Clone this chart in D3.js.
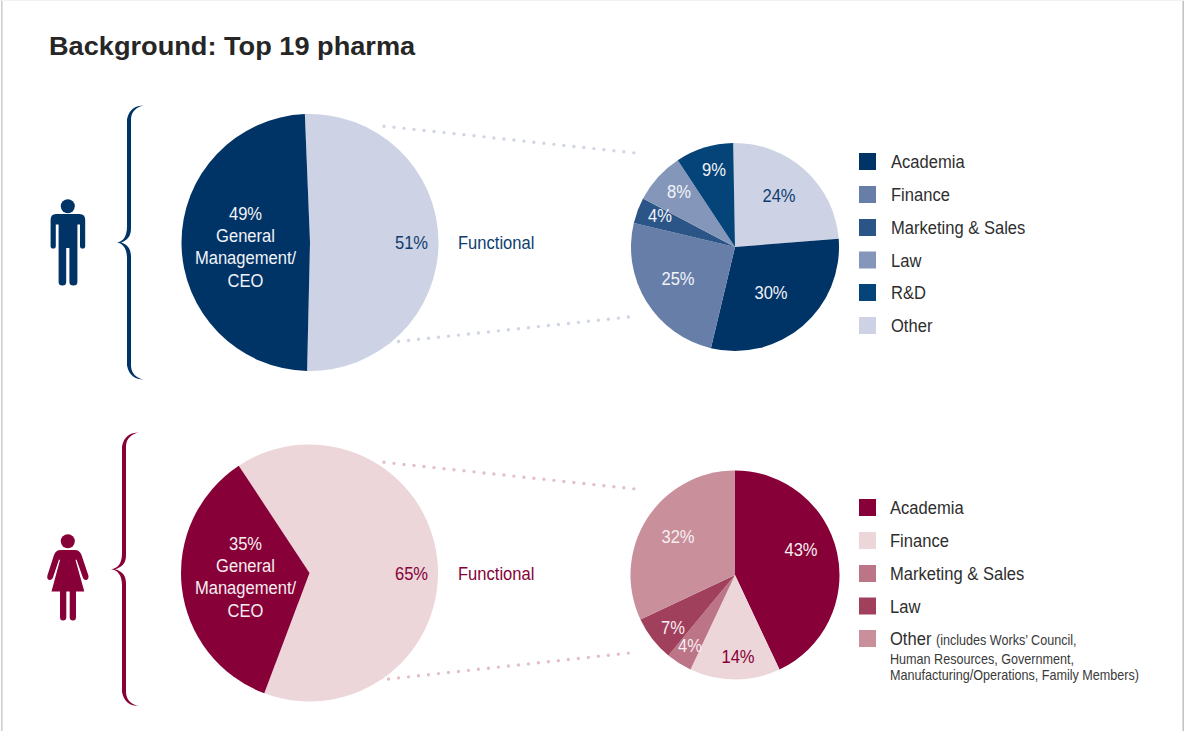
<!DOCTYPE html>
<html>
<head>
<meta charset="utf-8">
<script src="https://cdnjs.cloudflare.com/ajax/libs/d3/7.8.5/d3.min.js"></script>
<style>
  html, body { margin: 0; padding: 0; background: #fff; overflow: hidden; }
  svg { display: block; }
  text { font-family: "Liberation Sans", Arial, sans-serif; }
</style>
</head>
<body>
<svg id="chart" width="1184" height="731"></svg>
<script>
// Career background of top-team executives, split by gender.
const title = "Background: Top 19 pharma";

const menRoles = ["Functional", "General Management/CEO"];
const menRoleShares = [51, 49];
const menCategories = ["Other", "Academia", "Finance", "Marketing & Sales", "Law", "R&D"];
const menShares = [24, 30, 25, 4, 8, 9];
const menLegend = ["Academia", "Finance", "Marketing & Sales", "Law", "R&D", "Other"];

const womenRoles = ["Functional", "General Management/CEO"];
const womenRoleShares = [65, 35];
const womenCategories = ["Academia", "Finance", "Marketing & Sales", "Law", "Other"];
const womenShares = [43, 14, 4, 7, 32];
const womenLegend = ["Academia", "Finance", "Marketing & Sales", "Law", "Other"];
const womenOtherNote = ["(includes Works\u2019 Council,", "Human Resources, Government,", "Manufacturing/Operations, Family Members)"];

const menColors = {
  "Academia": "#003366", "Finance": "#677ea8", "Marketing & Sales": "#2c5587",
  "Law": "#8497ba", "R&D": "#054478", "Other": "#cdd3e4"
};
const womenColors = {
  "Academia": "#870037", "Finance": "#ecd6da", "Marketing & Sales": "#bb7587",
  "Law": "#a0405c", "Other": "#c98f9b"
};

const svg = d3.select("#chart");
const deg = Math.PI / 180;
const NARROW = 0.895;

// Text drawn slightly condensed around its anchor point.
function label(parent, str, x, y, opts = {}) {
  const size = opts.size || 18.5;
  const sx = opts.scale || NARROW;
  return parent.append("text")
    .attr("transform", `translate(${x},${y}) scale(${sx},1)`)
    .attr("text-anchor", opts.anchor || "start")
    .attr("font-size", size)
    .attr("font-weight", opts.weight || 400)
    .attr("fill", opts.fill || "#2d2d2d")
    .text(str);
}

// Page frame
svg.append("rect").attr("x", 1).attr("y", 0).attr("width", 1.6).attr("height", 731).attr("fill", "#cfcfcf");
svg.append("rect").attr("x", 1182.4).attr("y", 0).attr("width", 1.6).attr("height", 731).attr("fill", "#c4c4c4");
svg.append("rect").attr("x", 0).attr("y", 0).attr("width", 1184).attr("height", 1).attr("fill", "#f1f1f1");

label(svg, title, 49, 54.5, { size: 26, weight: 700, scale: 1.045, fill: "#262626" });

function pie(cfg) {
  const layout = d3.pie().sort(null).value(d => d)
    .startAngle(cfg.start * deg).endAngle((cfg.start + 360) * deg);
  const arc = d3.arc().innerRadius(0).outerRadius(cfg.r);
  const g = svg.append("g").attr("transform", `translate(${cfg.cx},${cfg.cy})`);
  g.selectAll("path").data(layout(cfg.values)).join("path")
    .attr("d", arc)
    .attr("fill", (d, i) => cfg.colors[i]);
  return g;
}

function dots(x1, y1, x2, y2, color) {
  svg.append("path")
    .attr("d", d3.line()([[x1, y1], [x2, y2]]))
    .attr("fill", "none")
    .attr("stroke", color)
    .attr("stroke-width", 3.4)
    .attr("stroke-linecap", "round")
    .attr("stroke-dasharray", "0 10.05");
}

// Curly bracket opening to the right, tip pointing left at mid height.
function brace(x, top, bottom, tipX, color) {
  const mid = (top + bottom) / 2;
  const endX = x + 15;
  const w = 4;
  const d = [
    `M${endX},${top}`,
    `C${x + 6},${top} ${x},${top + 4} ${x - w / 2},${top + 14}`,
    `L${x - w / 2},${mid - 16}`,
    `C${x - w / 2},${mid - 6} ${x - 6},${mid - 1} ${tipX},${mid}`,
    `C${x - 6},${mid + 1} ${x - w / 2},${mid + 6} ${x - w / 2},${mid + 16}`,
    `L${x - w / 2},${bottom - 14}`,
    `C${x},${bottom - 4} ${x + 6},${bottom} ${endX},${bottom}`,
    `C${x + 8},${bottom - 1} ${x + w / 2},${bottom - 6} ${x + w / 2},${bottom - 14}`,
    `L${x + w / 2},${mid + 14}`,
    `C${x + w / 2},${mid + 6} ${x - 2},${mid + 2} ${tipX + 4},${mid}`,
    `C${x - 2},${mid - 2} ${x + w / 2},${mid - 6} ${x + w / 2},${mid - 14}`,
    `L${x + w / 2},${top + 14}`,
    `C${x + w / 2},${top + 6} ${x + 8},${top + 1} ${endX},${top}`,
    "Z"
  ].join(" ");
  svg.append("path").attr("d", d).attr("fill", color);
}

function legend(items, colors, swatchX, textX, rows) {
  items.forEach((name, i) => {
    svg.append("rect")
      .attr("x", swatchX).attr("y", rows[i])
      .attr("width", 17).attr("height", 17)
      .attr("fill", colors[name]);
    label(svg, name, textX, rows[i] + 15, { fill: "#2e2e2e" });
  });
}

// ---- Men ----
const navy = menColors["Academia"];
const paleNavy = menColors["Other"];
const dotNavy = "#d0d5e5";
const navyText = "#0f3d70";

brace(129, 105.5, 379.5, 117, navy);

const manIcon = svg.append("g").attr("fill", navy);
manIcon.append("circle").attr("cx", 67.8).attr("cy", 206.3).attr("r", 7);
manIcon.append("path").attr("d",
  "M56,214 L79.6,214 Q85.2,214 85.2,220 L85.2,246 Q85.2,248.6 82.6,248.6 Q80,248.6 80,246 L80,224.5 L78.4,224.5 " +
  "L77.4,224.5 L77.4,282 Q77.4,285.5 73.4,285.5 Q69.4,285.5 69.4,282 L69.4,248 L66.2,248 L66.2,282 " +
  "Q66.2,285.5 62.4,285.5 Q58.6,285.5 58.6,282 L58.6,224.5 L55.8,224.5 L55.8,246 Q55.8,248.6 53.2,248.6 " +
  "Q50.6,248.6 50.6,246 L50.6,220 Q50.6,214 56,214 Z");

pie({ cx: 310, cy: 242.5, r: 128.5, start: -2.3, values: menRoleShares, colors: [paleNavy, navy] });

["49%", "General", "Management/", "CEO"].forEach((s, i) =>
  label(svg, s, 245.5, 219.5 + i * 22.4, { anchor: "middle", fill: "#f2f4f9" }));
label(svg, "51%", 411.5, 249, { anchor: "middle", fill: navyText });
label(svg, "Functional", 458, 249, { fill: navyText });

dots(384, 126.2, 637, 153.2, dotNavy);
dots(388.5, 342.5, 629, 317, dotNavy);

const menPie = { cx: 735, cy: 247, r: 104 };
pie({ ...menPie, start: -1, values: menShares, colors: menCategories.map(c => menColors[c]) });

// Label offsets from the pie centre, one per slice.
const menLabelOffsets = [[44, -45], [36, 52], [-57, 38], [-75, -25], [-56, -49], [-21, -71]];
menShares.forEach((v, i) => {
  const light = menCategories[i] === "Other";
  label(svg, v + "%", menPie.cx + menLabelOffsets[i][0], menPie.cy + menLabelOffsets[i][1],
    { anchor: "middle", fill: light ? navyText : "#f2f4f9" });
});

legend(menLegend, menColors, 859, 891, [153, 186, 219, 251.5, 284, 317]);

// ---- Women ----
const crimson = womenColors["Academia"];
const palePink = womenColors["Finance"];
const dotPink = "#e3bfc8";

brace(124, 432.5, 706, 111, crimson);

const womanIcon = svg.append("g").attr("fill", crimson);
womanIcon.append("circle").attr("cx", 67.8).attr("cy", 541.3).attr("r", 7);
womanIcon.append("path").attr("d",
  "M60.5,550 L75,550 Q79.5,550 81.5,555 L88.4,575.5 Q89,579 86.5,580 Q84,580.5 83,578 L76.5,559.5 L75.5,560 " +
  "L84.3,591.5 L76,591.5 L76,617 Q76,620.5 73,620.5 Q69.7,620.5 69.7,617 L69.7,591.5 L66.3,591.5 L66.3,617 " +
  "Q66.3,620.5 63,620.5 Q60,620.5 60,617 L60,591.5 L51.5,591.5 L60,560 L59,559.5 L52.8,578 Q51.5,580.5 49,580 " +
  "Q46.7,579 47.4,575.5 L54,555 Q56,550 60.5,550 Z");

pie({ cx: 309.5, cy: 573, r: 128.5, start: -33.4, values: womenRoleShares, colors: [palePink, crimson] });

["35%", "General", "Management/", "CEO"].forEach((s, i) =>
  label(svg, s, 245.5, 549.5 + i * 22.4, { anchor: "middle", fill: "#f7eef1" }));
label(svg, "65%", 411.5, 580, { anchor: "middle", fill: crimson });
label(svg, "Functional", 458, 580, { fill: crimson });

dots(384, 462.3, 637, 489.2, dotPink);
dots(388.5, 679, 629, 653, dotPink);

const womenPie = { cx: 735, cy: 575, r: 104.5 };
pie({ ...womenPie, start: 0, values: womenShares, colors: womenCategories.map(c => womenColors[c]) });

const womenLabelOffsets = [[66, -19], [3, 88], [-45, 77], [-62, 59], [-57, -32]];
womenShares.forEach((v, i) => {
  const light = womenCategories[i] === "Finance";
  label(svg, v + "%", womenPie.cx + womenLabelOffsets[i][0], womenPie.cy + womenLabelOffsets[i][1],
    { anchor: "middle", fill: light ? crimson : "#f7eef1" });
});

legend(womenLegend, womenColors, 859, 890, [499, 532, 565, 597.5, 630]);

label(svg, womenOtherNote[0], 936, 645, { size: 14, scale: 0.9, fill: "#3a3a3a" });
label(svg, womenOtherNote[1], 890, 664, { size: 14, scale: 0.9, fill: "#3a3a3a" });
label(svg, womenOtherNote[2], 890, 680, { size: 14, scale: 0.9, fill: "#3a3a3a" });
</script>
</body>
</html>
